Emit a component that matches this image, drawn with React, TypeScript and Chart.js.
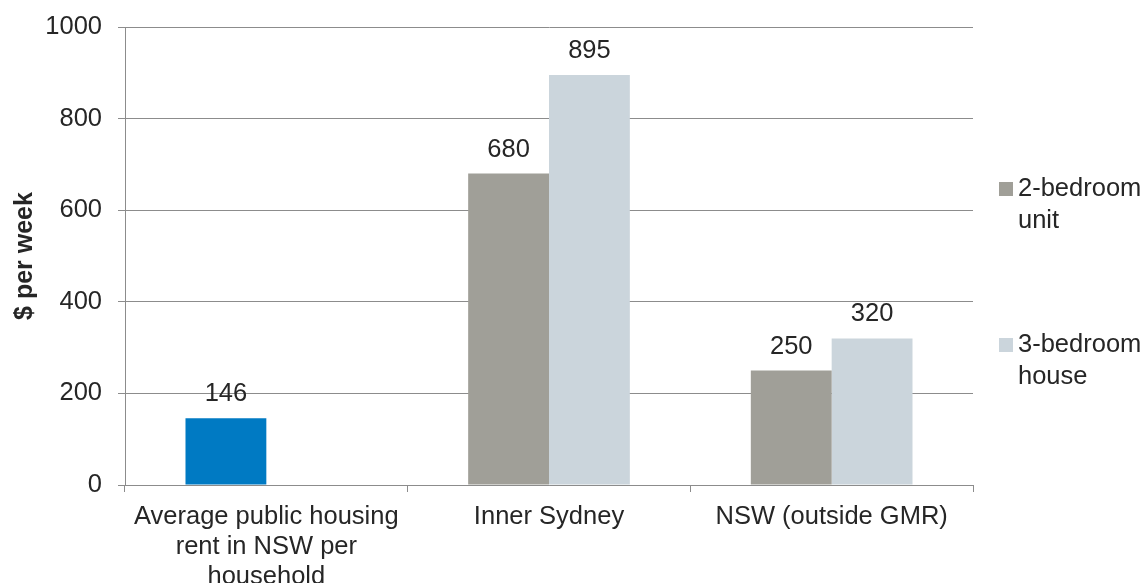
import { useEffect, useRef } from "react";
import { Chart, registerables } from "chart.js";

Chart.register(...registerables);

const categories = [
  ["Average public housing", "rent in NSW per", "household"],
  "Inner Sydney",
  "NSW (outside GMR)",
];
const avgPublicRent = [146, null, null];
const twoBedroomUnit = [null, 680, 250];
const threeBedroomHouse = [null, 895, 320];
const yTicks = [0, 200, 400, 600, 800, 1000];

const FONT = "'Liberation Sans', Arial, sans-serif";
const TEXT = "#262626";
const GRID = "#8c8c8c";
const SIZE = 25.5;

// value labels above every bar
const valueLabels = {
  id: "valueLabels",
  afterDatasetsDraw(chart: any) {
    const ctx = chart.ctx;
    ctx.save();
    ctx.font = `${SIZE}px ${FONT}`;
    ctx.fillStyle = TEXT;
    ctx.textAlign = "center";
    ctx.textBaseline = "alphabetic";
    chart.data.datasets.forEach((ds: any, i: number) => {
      const meta = chart.getDatasetMeta(i);
      meta.data.forEach((bar: any, j: number) => {
        const v = ds.data[j];
        if (v == null) return;
        ctx.fillText(String(v), bar.x, bar.y - 17);
      });
    });
    ctx.restore();
  },
};

// legend on the right with wrapped names
const sideLegend = {
  id: "sideLegend",
  afterDraw(chart: any) {
    const ctx = chart.ctx;
    const x = chart.chartArea.right + 26;
    const rows = [189, 345];
    ctx.save();
    ctx.font = `${SIZE}px ${FONT}`;
    ctx.textBaseline = "middle";
    ctx.textAlign = "left";
    chart.data.datasets
      .filter((ds: any) => ds.inLegend)
      .forEach((ds: any, k: number) => {
        const y = rows[k];
        ctx.fillStyle = ds.backgroundColor;
        ctx.fillRect(x, y - 7, 14, 14);
        ctx.fillStyle = TEXT;
        const words = ds.label.split(" ");
        ctx.fillText(words[0], x + 19, y);
        ctx.fillText(words.slice(1).join(" "), x + 19, y + 32);
      });
    ctx.restore();
  },
};

export default function App() {
  const chartRef = useRef<HTMLCanvasElement | null>(null);

  useEffect(() => {
    document.body.style.margin = "0";
    if (!chartRef.current) return;
    const chart = new Chart(chartRef.current, {
      type: "bar",
      data: {
        labels: categories,
        datasets: [
          {
            label: "Average public housing rent",
            data: avgPublicRent,
            backgroundColor: "#007ac3",
            stack: "a",
            inLegend: false,
          } as any,
          {
            label: "2-bedroom unit",
            data: twoBedroomUnit,
            backgroundColor: "#a09f98",
            stack: "a",
            inLegend: true,
          },
          {
            label: "3-bedroom house",
            data: threeBedroomHouse,
            backgroundColor: "#cbd5dc",
            stack: "b",
            inLegend: true,
          },
        ],
      },
      options: {
        animation: false,
        responsive: true,
        maintainAspectRatio: false,
        datasets: {
          bar: { categoryPercentage: 0.572, barPercentage: 1 },
        },
        layout: { padding: { left: 0, right: 173, top: 27, bottom: 0 } },
        plugins: {
          legend: { display: false },
          tooltip: { enabled: false },
        },
        scales: {
          x: {
            grid: {
              drawOnChartArea: false,
              drawTicks: true,
              tickLength: 7,
              color: GRID,
            },
            border: { color: GRID, width: 1 },
            ticks: {
              color: TEXT,
              font: { family: FONT, size: SIZE, lineHeight: 1.17 },
              padding: 10,
              maxRotation: 0,
              autoSkip: false,
            },
            afterFit(scale: any) {
              scale.height = 98;
              scale.paddingLeft = 0;
              scale.paddingRight = 0;
            },
          },
          y: {
            min: 0,
            max: 1000,
            afterBuildTicks(scale: any) {
              scale.ticks = yTicks.map((v) => ({ value: v }));
            },
            grid: { color: GRID, tickLength: 7, lineWidth: 1 },
            border: { color: GRID, width: 1 },
            ticks: {
              color: TEXT,
              font: { family: FONT, size: SIZE },
              padding: 16,
              callback: (v: any) => String(v),
            },
            title: {
              display: true,
              text: "$ per week",
              color: TEXT,
              font: { family: FONT, size: 25, weight: "bold" },
              padding: { top: 10, bottom: 4 },
            },
            afterFit(scale: any) {
              scale.width = 125;
              scale.paddingTop = 0;
              scale.paddingBottom = 0;
            },
          },
        },
      },
      plugins: [valueLabels, sideLegend],
    });
    return () => chart.destroy();
  }, []);

  return (
    <div style={{ width: 1146, height: 583, position: "relative", background: "#fff" }}>
      <canvas ref={chartRef} />
    </div>
  );
}
